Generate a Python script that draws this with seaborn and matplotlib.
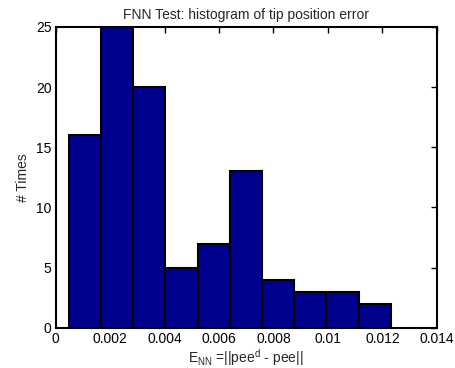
import numpy as np
import pandas as pd
import matplotlib
matplotlib.use("Agg")
import matplotlib.pyplot as plt
import seaborn as sns

# bin edges and counts
bin_edges = [0.000489, 0.001671, 0.002853, 0.004034, 0.005216, 0.006398,
             0.007580, 0.008761, 0.009943, 0.011125, 0.012306]
counts = [16, 25, 20, 5, 7, 13, 4, 3, 3, 2]
x_ticks = [0, 0.002, 0.004, 0.006, 0.008, 0.01, 0.012, 0.014]
x_ticklabels = ["0", "0.002", "0.004", "0.006", "0.008", "0.01", "0.012", "0.014"]
y_ticks = [0, 5, 10, 15, 20, 25]

centers = [(a + b) / 2 for a, b in zip(bin_edges[:-1], bin_edges[1:])]
df = pd.DataFrame({"error": centers, "n": counts})

sns.set_style("white")
plt.rcParams["font.family"] = ["Liberation Sans", "DejaVu Sans"]
plt.rcParams["mathtext.fontset"] = "custom"
plt.rcParams["mathtext.rm"] = "Liberation Sans"
plt.rcParams["mathtext.it"] = "Liberation Sans"

fig = plt.figure(figsize=(4.56, 3.68), dpi=100)
ax = fig.add_axes([0.122, 0.109, 0.836, 0.818])

sns.histplot(data=df, x="error", weights="n", bins=bin_edges, ax=ax,
             color="#00008f", alpha=1, edgecolor="black", linewidth=1.5)

ax.set_xlim(0, 0.014)
ax.set_ylim(0, 25)
ax.set_xticks(x_ticks)
ax.set_xticklabels(x_ticklabels)
ax.set_yticks(y_ticks)
ax.tick_params(direction="in", top=True, right=True, length=4, width=1,
               labelsize=10, pad=3, colors="black")
for s in ax.spines.values():
    s.set_visible(True)
    s.set_color("black")
    s.set_linewidth(1.5)

ax.set_title("FNN Test: histogram of tip position error", fontsize=10, pad=6)
ax.set_xlabel(r"E$_{\mathrm{NN}}$ =||pee$^{\mathrm{d}}$ - pee||", fontsize=10, labelpad=1)
ax.set_ylabel("# Times", fontsize=10, labelpad=4)

fig.savefig("out.png", dpi=100)
